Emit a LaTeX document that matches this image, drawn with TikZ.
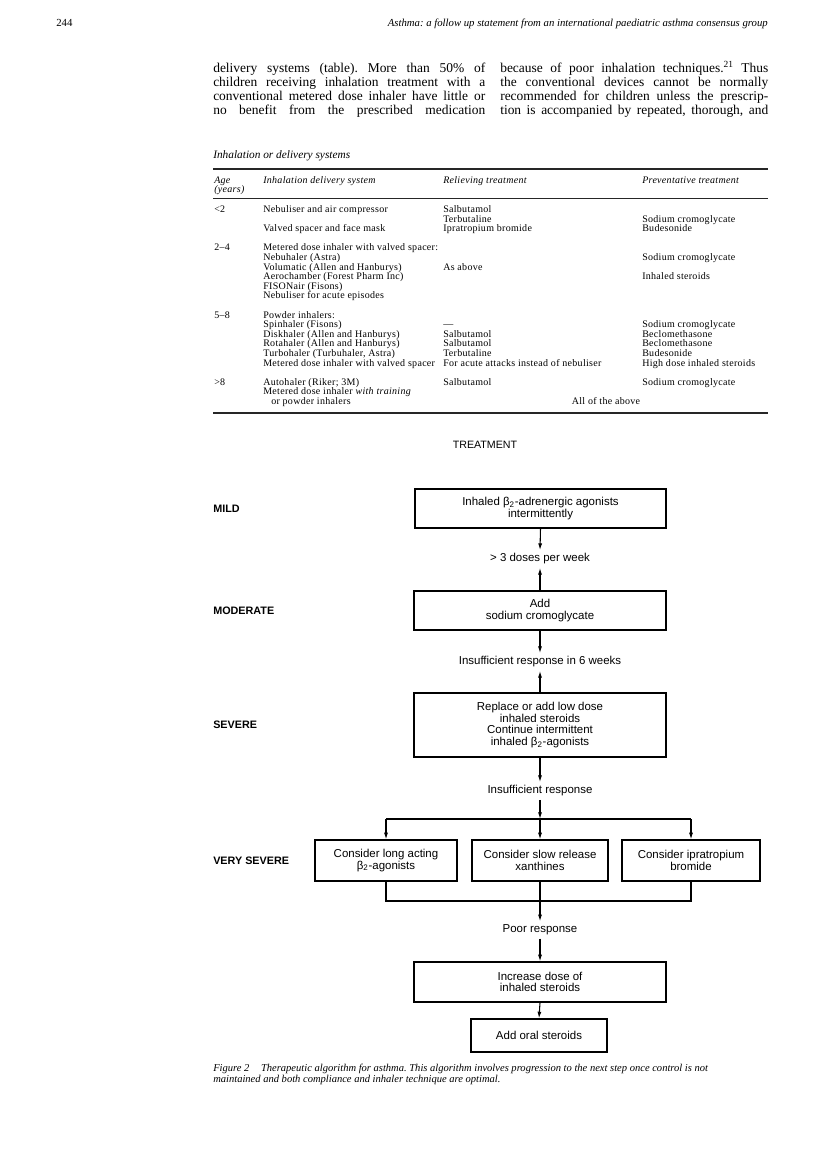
\documentclass[tikz,border=0pt]{standalone}
\usepackage{fontspec}
\setmainfont{Liberation Serif}
\newfontfamily\sansfam{Liberation Sans}
\newfontfamily\tabfam[LetterSpace=3]{Liberation Serif}
\usetikzlibrary{arrows.meta}
\newlength\px \setlength\px{0.75pt}
\frenchspacing
\newcommand\bodyfont{\fontsize{10.1pt}{10.5pt}\selectfont}
\newcommand\tabfont{\tabfam\fontsize{7.5pt}{7.2pt}\selectfont}
\newcommand\flowfont{\sansfam\fontsize{8.6pt}{8.8pt}\selectfont}
\newcommand\lvlfont{\sansfam\bfseries\fontsize{8.1pt}{9pt}\selectfont}
\newcommand\bodyline[2]{\makebox[#1][s]{#2}}
\begin{document}
\begin{tikzpicture}[x=0.75pt,y=-0.75pt,
  txt/.style={inner sep=0pt, anchor=mid west},
  tab/.style={txt, font=\tabfont},
  tabh/.style={txt, font=\tabfont\itshape},
  body/.style={txt, font=\bodyfont},
  flow/.style={font=\flowfont, align=center, inner xsep=0pt, inner ysep=2.5pt},
  fbox/.style={draw, line width=0.9pt, font=\flowfont, align=center, inner sep=0pt},
  lvl/.style={txt, font=\lvlfont},
  arr/.style={line width=0.8pt, -{Latex[length=5pt,width=3pt]}},
  ln/.style={line width=0.8pt},
  tabrule/.style={line width=1.1pt, draw=black!85}
]
\useasboundingbox[fill=white] (0,0) rectangle (816,1174);

% page header
\node[txt, font=\fontsize{8.1pt}{9pt}\selectfont] (pg) at (56,23) {244};
\node[anchor=mid east, inner sep=0pt, font=\fontsize{8.05pt}{9pt}\selectfont\itshape] (hd) at (768,23)
  {Asthma: a follow up statement from an international paediatric asthma consensus group};

% body text
\node[body] (l1) at (213,69.4) {\bodyline{204pt}{delivery systems (table). More than 50\% of}};
\node[body] (l2) at (213,83.4) {\bodyline{204pt}{children receiving inhalation treatment with a}};
\node[body] (l3) at (213,97.4) {\bodyline{204pt}{conventional metered dose inhaler have little or}};
\node[body] (l4) at (213,111.4) {\bodyline{204pt}{no benefit from the prescribed medication}};
\node[body] (r1) at (500,69.4) {\bodyline{201pt}{because of poor inhalation techniques.\textsuperscript{21} Thus}};
\node[body] (r2) at (500,83.4) {\bodyline{201pt}{the conventional devices cannot be normally}};
\node[body] (r3) at (500,97.4) {\bodyline{201pt}{recommended for children unless the prescrip-}};
\node[body] (r4) at (500,111.4) {\bodyline{201pt}{tion is accompanied by repeated, thorough, and}};

% table
\node[txt, font=\fontsize{8.5pt}{9pt}\selectfont\itshape] (tt) at (213,155) {Inhalation or delivery systems};
\draw[tabrule] (213,169) -- (768,169);
\node[tabh] (h1) at (214,180) {Age};
\node[tabh] (h1b) at (214,189.6) {(years)};
\node[tabh] (h2) at (263,180) {Inhalation delivery system};
\node[tabh] (h3) at (443,180) {Relieving treatment};
\node[tabh] (h4) at (642,180) {Preventative treatment};
\draw[line width=0.8pt, draw=black!85] (213,198.5) -- (768,198.5);

% <2
\node[tab] (a1) at (214,209.5) {<2};
\node[tab] (s1) at (263,209.5) {Nebuliser and air compressor};
\node[tab] (rl1) at (443,209.5) {Salbutamol};
\node[tab] (rl2) at (443,219.1) {Terbutaline};
\node[tab] (p1) at (642,219.1) {Sodium cromoglycate};
\node[tab] (s2) at (263,228.7) {Valved spacer and face mask};
\node[tab] (rl3) at (443,228.7) {Ipratropium bromide};
\node[tab] (p2) at (642,228.7) {Budesonide};
% 2-4
\node[tab] (a2) at (214,247.9) {2–4};
\node[tab] (s3) at (263,247.9) {Metered dose inhaler with valved spacer:};
\node[tab] (s4) at (263,257.5) {Nebuhaler (Astra)};
\node[tab] (p3) at (642,257.5) {Sodium cromoglycate};
\node[tab] (s5) at (263,267.1) {Volumatic (Allen and Hanburys)};
\node[tab] (rl4) at (443,267.1) {As above};
\node[tab] (s6) at (263,276.7) {Aerochamber (Forest Pharm Inc)};
\node[tab] (p4) at (642,276.7) {Inhaled steroids};
\node[tab] (s7) at (263,286.3) {FISONair (Fisons)};
\node[tab] (s8) at (263,295.9) {Nebuliser for acute episodes};
% 5-8
\node[tab] (a3) at (214,315.1) {5–8};
\node[tab] (s9) at (263,315.1) {Powder inhalers:};
\node[tab] (s10) at (263,324.7) {Spinhaler (Fisons)};
\node[tab] (rl5) at (443,324.7) {—};
\node[tab] (p5) at (642,324.7) {Sodium cromoglycate};
\node[tab] (s11) at (263,334.3) {Diskhaler (Allen and Hanburys)};
\node[tab] (rl6) at (443,334.3) {Salbutamol};
\node[tab] (p6) at (642,334.3) {Beclomethasone};
\node[tab] (s12) at (263,343.9) {Rotahaler (Allen and Hanburys)};
\node[tab] (rl7) at (443,343.9) {Salbutamol};
\node[tab] (p7) at (642,343.9) {Beclomethasone};
\node[tab] (s13) at (263,353.5) {Turbohaler (Turbuhaler, Astra)};
\node[tab] (rl8) at (443,353.5) {Terbutaline};
\node[tab] (p8) at (642,353.5) {Budesonide};
\node[tab] (s14) at (263,363.1) {Metered dose inhaler with valved spacer};
\node[tab] (rl9) at (443,363.1) {For acute attacks instead of nebuliser};
\node[tab] (p9) at (642,363.1) {High dose inhaled steroids};
% >8
\node[tab] (a4) at (214,382.3) {>8};
\node[tab] (s15) at (263,382.3) {Autohaler (Riker; 3M)};
\node[tab] (rl10) at (443,382.3) {Salbutamol};
\node[tab] (p10) at (642,382.3) {Sodium cromoglycate};
\node[tab] (s16) at (263,391.9) {Metered dose inhaler \textit{with training}};
\node[tab] (s17) at (271,401.5) {or powder inhalers};
\node[tab, anchor=mid] (all) at (606,401.5) {All of the above};
\draw[tabrule] (213,413) -- (768,413);

% flowchart
\node[inner sep=0pt, font=\sansfam\fontsize{8pt}{9pt}\selectfont] (treat) at (485,445) {TREATMENT};
\node[lvl] (lmild) at (213,509) {MILD};
\node[lvl] (lmod) at (213,611) {MODERATE};
\node[lvl] (lsev) at (213,725) {SEVERE};
\node[lvl] (lvs) at (213,861) {VERY SEVERE};

\node[fbox, minimum width=251\px, minimum height=39\px] (mild) at (540.5,508.5)
  {Inhaled β\textsubscript{2}-adrenergic agonists\\intermittently};
\node[flow] (d3) at (540,559) {> 3 doses per week};
\node[fbox, minimum width=252\px, minimum height=39\px] (mod) at (540,610.5)
  {Add\\sodium cromoglycate};
\node[flow] (ins6) at (540,662) {Insufficient response in 6 weeks};
\node[fbox, minimum width=252\px, minimum height=64\px] (sev) at (540,725)
  {Replace or add low dose\\inhaled steroids\\Continue intermittent\\inhaled β\textsubscript{2}-agonists};
\node[flow] (ins) at (540,791) {Insufficient response};
\node[fbox, minimum width=142\px, minimum height=41\px] (vs1) at (386,860.5)
  {Consider long acting\\β\textsubscript{2}-agonists};
\node[fbox, minimum width=136\px, minimum height=41\px] (vs2) at (540,860.5)
  {Consider slow release\\xanthines};
\node[fbox, minimum width=138\px, minimum height=41\px] (vs3) at (691,860.5)
  {Consider ipratropium\\bromide};
\node[flow] (poor) at (540,930) {Poor response};
\node[fbox, minimum width=252\px, minimum height=40\px] (inc) at (540,982)
  {Increase dose of\\inhaled steroids};
\node[fbox, minimum width=136\px, minimum height=33\px] (oral) at (539,1035.5)
  {Add oral steroids};

\coordinate (j) at (540,819);
\coordinate (b) at (540,901);
\draw[arr] (mild.south) -- (d3.north);
\draw[arr] (mod.north) -- (d3.south);
\draw[arr] (mod.south) -- (ins6.north);
\draw[arr] (sev.north) -- (ins6.south);
\draw[arr] (sev.south) -- (ins.north);
\draw[arr] (ins.south) -- (j);
\draw[ln] (j -| vs1.north) -- (j -| vs3.north);
\draw[arr] (j -| vs1.north) -- (vs1.north);
\draw[arr] (j) -- (vs2.north);
\draw[arr] (j -| vs3.north) -- (vs3.north);
\draw[ln] (vs1.south) -- (vs1.south |- b) -- (vs3.south |- b) -- (vs3.south);
\draw[arr] (vs2.south) -- (poor.north);
\draw[arr] (poor.south) -- (inc.north);
\draw[arr] (inc.south) -- (oral.north);

% caption
\node[txt, font=\fontsize{7.9pt}{8.5pt}\selectfont\itshape] (cap1) at (213,1068)
  {Figure 2\hspace{1.1em}Therapeutic algorithm for asthma. This algorithm involves progression to the next step once control is not};
\node[txt, font=\fontsize{7.9pt}{8.5pt}\selectfont\itshape] (cap2) at (213,1079)
  {maintained and both compliance and inhaler technique are optimal.};
\end{tikzpicture}
\end{document}
